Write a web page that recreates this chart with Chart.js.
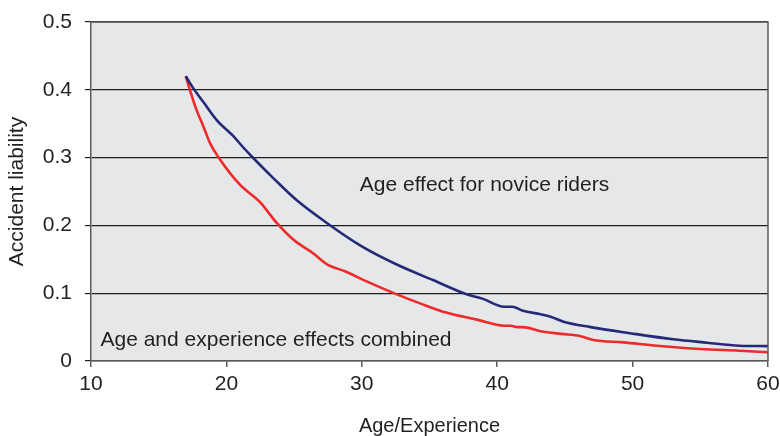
<!DOCTYPE html>
<html>
<head>
<meta charset="utf-8">
<script src="https://cdn.jsdelivr.net/npm/chart.js@4"></script>
<style>
  body { margin: 0; background: #fff; overflow: hidden; }
</style>
</head>
<body>
<canvas id="chart" width="780" height="436"></canvas>
<script>
// Values
const noviceAges = [17, 17.6, 18.3, 19.3, 20.5, 21.2, 22, 23.5, 25.2, 27.6, 30, 32.5, 35.3, 37.8, 38.9, 40.5, 41.1, 41.9, 43.2, 44, 44.9, 46.9, 49.8, 53, 55.5, 57.9, 60];
const noviceValues = [0.42, 0.401, 0.382, 0.355, 0.332, 0.316, 0.299, 0.269, 0.237, 0.201, 0.169, 0.143, 0.119, 0.098, 0.092, 0.080, 0.080, 0.074, 0.069, 0.065, 0.058, 0.050, 0.041, 0.032, 0.027, 0.0226, 0.022];

const combinedAges = [17, 17.3, 17.8, 18.3, 18.8, 19.4, 21, 22.5, 23.7, 25, 26.4, 27.4, 28.8, 30.4, 32.5, 34.3, 36.3, 38.5, 40.5, 41, 41.5, 41.9, 43.2, 44.7, 46.1, 47.1, 49.3, 51.8, 55, 57.9, 60];
const combinedValues = [0.42, 0.400, 0.370, 0.346, 0.321, 0.301, 0.260, 0.234, 0.204, 0.178, 0.159, 0.143, 0.132, 0.117, 0.099, 0.085, 0.071, 0.061, 0.052, 0.052, 0.050, 0.050, 0.044, 0.040, 0.037, 0.031, 0.0275, 0.0226, 0.0177, 0.0152, 0.013];

const xTicks = [10, 20, 30, 40, 50, 60];
const yTicks = [0, 0.1, 0.2, 0.3, 0.4, 0.5];

// text labels placed in data units
const notes = [
  { text: 'Age effect for novice riders', x: 29.85, y: 0.26 },
  { text: 'Age and experience effects combined', x: 10.7, y: 0.031 }
];

const FONT = '"Liberation Sans", Arial, sans-serif';
const TEXT = '#231f20';

const toPoints = (xs, ys) => xs.map((x, i) => ({ x: x, y: ys[i] }));

// grey plot area, frame and the two notes
const plotDecor = {
  id: 'plotDecor',
  beforeDraw(chart) {
    const { ctx, chartArea: a } = chart;
    ctx.save();
    ctx.fillStyle = '#e6e7e9';
    ctx.fillRect(a.left, a.top, a.right - a.left, a.bottom - a.top);
    ctx.restore();
  },
  afterDatasetsDraw(chart) {
    const { ctx, chartArea: a, scales } = chart;
    ctx.save();
    ctx.strokeStyle = '#5a5a5a';
    ctx.lineWidth = 1.5;
    ctx.beginPath();
    ctx.moveTo(a.left, a.top);
    ctx.lineTo(a.right, a.top);
    ctx.lineTo(a.right, a.bottom);
    ctx.stroke();

    ctx.fillStyle = TEXT;
    ctx.font = '21px ' + FONT;
    ctx.textAlign = 'left';
    ctx.textBaseline = 'middle';
    notes.forEach(n => {
      ctx.fillText(n.text, scales.x.getPixelForValue(n.x), scales.y.getPixelForValue(n.y));
    });
    ctx.restore();
  }
};

new Chart(document.getElementById('chart'), {
  type: 'scatter',
  data: {
    datasets: [
      {
        label: 'Age effect for novice riders',
        data: toPoints(noviceAges, noviceValues),
        showLine: true,
        borderColor: '#252a78',
        borderWidth: 2.6,
        pointRadius: 0,
        cubicInterpolationMode: 'monotone'
      },
      {
        label: 'Age and experience effects combined',
        data: toPoints(combinedAges, combinedValues),
        showLine: true,
        borderColor: '#ee2a2a',
        borderWidth: 2.6,
        pointRadius: 0,
        cubicInterpolationMode: 'monotone'
      }
    ]
  },
  options: {
    responsive: false,
    animation: false,
    layout: { padding: { top: 22, right: 12, left: 0, bottom: 0 } },
    plugins: {
      legend: { display: false },
      tooltip: { enabled: false }
    },
    scales: {
      x: {
        type: 'linear',
        min: 10,
        max: 60,
        afterBuildTicks: s => { s.ticks = xTicks.map(v => ({ value: v })); },
        afterFit: s => { s.height = 75; s.paddingRight = 0; s.paddingLeft = 0; },
        grid: { drawOnChartArea: false, drawTicks: true, tickLength: 6, color: '#5a5a5a', lineWidth: 1.5 },
        border: { color: '#5a5a5a', width: 1.5 },
        ticks: { color: TEXT, font: { family: FONT, size: 21 }, padding: 5, maxRotation: 0 },
        title: {
          display: true,
          text: 'Age/Experience',
          color: TEXT,
          font: { family: FONT, size: 20, lineHeight: 1 },
          padding: { top: 0, bottom: 0 }
        }
      },
      y: {
        min: 0,
        max: 0.5,
        afterBuildTicks: s => { s.ticks = yTicks.map(v => ({ value: v })); },
        afterFit: s => { s.width = 91; s.paddingTop = 0; s.paddingBottom = 0; },
        grid: {
          drawTicks: true,
          tickLength: 6,
          color: '#1e1e1e',
          lineWidth: 1.2
        },
        border: { color: '#5a5a5a', width: 1.5 },
        ticks: {
          color: TEXT,
          font: { family: FONT, size: 21 },
          padding: 13,
          callback: v => String(v)
        },
        title: {
          display: true,
          text: 'Accident liability',
          color: TEXT,
          font: { family: FONT, size: 21 },
          padding: { top: 5, bottom: 0 }
        }
      }
    }
  },
  plugins: [plotDecor]
});
</script>
</body>
</html>
